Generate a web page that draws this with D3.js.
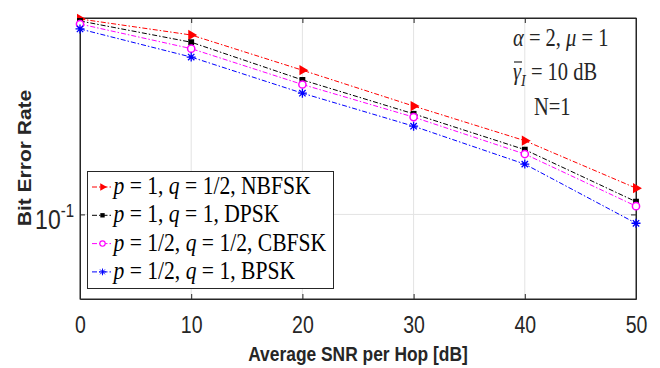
<!DOCTYPE html>
<html>
<head>
<meta charset="utf-8">
<script src="https://cdn.jsdelivr.net/npm/d3@7.9.0/dist/d3.min.js"></script>
<style>
  body { margin: 0; background: #fff; }
  svg { display: block; }
</style>
</head>
<body>
<svg id="chart" width="660" height="368"></svg>
<script>
// values
const snr = [0, 10, 20, 30, 40, 50];
const berNBFSK = [0.496, 0.435, 0.326, 0.243, 0.183, 0.124];
const berDPSK  = [0.488, 0.410, 0.301, 0.228, 0.170, 0.111];
const berCBFSK = [0.476, 0.389, 0.290, 0.222, 0.164, 0.107];
const berBPSK  = [0.457, 0.363, 0.270, 0.206, 0.151, 0.093];

const legendP = ['1', '1', '1/2', '1/2'];
const legendQ = ['1/2', '1', '1/2', '1'];
const legendName = ['NBFSK', 'DPSK', 'CBFSK', 'BPSK'];

const xTicks = [0, 10, 20, 30, 40, 50];
const yTicks = [0.1];

const SANS = 'Liberation Sans, Arial, sans-serif';
const SERIF = 'Liberation Serif, Times New Roman, serif';
const STRETCH = 1.18; // reference is a bit taller than wide
const AXIS = '#262626';

const series = [
  { values: berNBFSK, color: '#ff0000', marker: 'tri' },
  { values: berDPSK,  color: '#000000', marker: 'square' },
  { values: berCBFSK, color: '#ff00ff', marker: 'circle' },
  { values: berBPSK,  color: '#0000ff', marker: 'star' },
];

const svg = d3.select('#chart');
const pLeft = 80, pRight = 636, pTop = 18, pBottom = 299;

const x = d3.scaleLinear().domain([0, 50]).range([pLeft, pRight]);
const y = d3.scaleLog().domain([0.05, 0.5]).range([pBottom, pTop]);

// grid
const grid = svg.append('g').attr('stroke', '#e3e3e3').attr('stroke-width', 1);
xTicks.slice(1, -1).forEach(t => {
  grid.append('line').attr('x1', x(t)).attr('x2', x(t)).attr('y1', pTop).attr('y2', pBottom);
});
yTicks.forEach(t => {
  grid.append('line').attr('x1', pLeft).attr('x2', pRight).attr('y1', y(t)).attr('y2', y(t));
});

// axes (ticks point inward, box on all sides)
const gx = svg.append('g').attr('transform', `translate(0,${pBottom})`)
  .call(d3.axisBottom(x).tickValues(xTicks).tickSizeInner(-5).tickSizeOuter(0));
gx.selectAll('text')
  .attr('y', 0).attr('dy', 0)
  .attr('transform', `translate(0,34) scale(1,${STRETCH})`)
  .attr('font-family', SANS).attr('font-size', 19.5).attr('fill', AXIS);

svg.append('g').attr('transform', `translate(0,${pTop})`)
  .call(d3.axisTop(x).tickValues(xTicks).tickSizeInner(-5).tickSizeOuter(0).tickFormat(''));

const gy = svg.append('g').attr('transform', `translate(${pLeft},0)`)
  .call(d3.axisLeft(y).tickValues(yTicks).tickSizeInner(-5).tickSizeOuter(0).tickFormat(''));
gy.selectAll('.tick').append('text')
  .attr('transform', `translate(-6,14) scale(1,${STRETCH})`)
  .attr('text-anchor', 'end')
  .attr('font-family', SANS).attr('font-size', 23).attr('fill', AXIS)
  .call(t => {
    t.append('tspan').text('10');
    t.append('tspan').attr('dy', -10).attr('font-size', 15).text('-1');
  });

svg.append('g').attr('transform', `translate(${pRight},0)`)
  .call(d3.axisRight(y).tickValues(yTicks).tickSizeInner(-5).tickSizeOuter(0).tickFormat(''));

svg.selectAll('.domain, .tick line').attr('stroke', AXIS);
svg.append('rect').attr('x', pLeft).attr('y', pTop)
  .attr('width', pRight - pLeft).attr('height', pBottom - pTop)
  .attr('fill', 'none').attr('stroke', AXIS).attr('stroke-width', 1);

// markers
function starPath(r) {
  const d = r * Math.SQRT1_2;
  return `M${-r},0L${r},0M0,${-r}L0,${r}M${-d},${-d}L${d},${d}M${-d},${d}L${d},${-d}`;
}
function drawMarker(g, kind, color) {
  if (kind === 'tri') {
    g.append('path').attr('d', d3.symbol(d3.symbolTriangle, 46)())
      .attr('transform', 'rotate(90)').attr('fill', color);
  } else if (kind === 'square') {
    g.append('path').attr('d', d3.symbol(d3.symbolSquare, 34)()).attr('fill', color);
  } else if (kind === 'circle') {
    g.append('circle').attr('r', 3.6).attr('fill', '#fff')
      .attr('stroke', color).attr('stroke-width', 1.5);
  } else {
    g.append('path').attr('d', starPath(4.5)).attr('stroke', color).attr('stroke-width', 1.3);
  }
}

const line = d3.line().x((d, i) => x(snr[i])).y(d => y(d));
const plot = svg.append('g');
series.forEach(s => {
  plot.append('path').attr('d', line(s.values))
    .attr('fill', 'none').attr('stroke', s.color).attr('stroke-width', 1)
    .attr('stroke-dasharray', '5,2,1.5,2');
  s.values.forEach((v, i) => {
    const g = plot.append('g').attr('transform', `translate(${x(snr[i])},${y(v)})`);
    drawMarker(g, s.marker, s.color);
  });
});

// legend
const lg = svg.append('g');
lg.append('rect').attr('x', 87.5).attr('y', 171.5).attr('width', 246).attr('height', 117)
  .attr('fill', '#fff').attr('stroke', AXIS).attr('stroke-width', 1);
series.forEach((s, i) => {
  const cy = 187 + i * 28.3;
  lg.append('line').attr('x1', 92).attr('x2', 112).attr('y1', cy).attr('y2', cy)
    .attr('stroke', s.color).attr('stroke-width', 1).attr('stroke-dasharray', '5,2,1.5,2');
  const m = lg.append('g').attr('transform', `translate(102.5,${cy}) scale(0.75)`);
  drawMarker(m, s.marker, s.color);
  const t = lg.append('text')
    .attr('transform', `translate(113.5,${cy + 7}) scale(1,${STRETCH})`)
    .attr('font-family', SERIF).attr('font-size', 21.6).attr('fill', '#000');
  t.append('tspan').attr('font-style', 'italic').text('p');
  t.append('tspan').text(` = ${legendP[i]}, `);
  t.append('tspan').attr('font-style', 'italic').text('q');
  t.append('tspan').text(` = ${legendQ[i]}, ${legendName[i]}`);
});

// annotations
const ann = svg.append('g').attr('font-family', SERIF).attr('font-size', 20.5).attr('fill', '#262626');
const a1 = ann.append('text').attr('transform', `translate(513,46) scale(1,${STRETCH})`);
a1.append('tspan').attr('font-style', 'italic').text('α');
a1.append('tspan').text(' = 2, ');
a1.append('tspan').attr('font-style', 'italic').text('μ');
a1.append('tspan').text(' = 1');

const a2 = ann.append('text').attr('transform', `translate(513,80) scale(1,${STRETCH})`);
a2.append('tspan').attr('font-style', 'italic').text('γ');
a2.append('tspan').attr('font-style', 'italic').attr('font-size', 14).attr('dy', 5).text('I');
a2.append('tspan').attr('dy', -5).text(' = 10 dB');
ann.append('line').attr('x1', 514).attr('x2', 522).attr('y1', 62).attr('y2', 62)
  .attr('stroke', '#262626').attr('stroke-width', 1.2);

ann.append('text').attr('transform', `translate(534,115) scale(1,${STRETCH})`).text('N=1');

// axis titles
svg.append('text')
  .attr('transform', `translate(358,361) scale(1,${STRETCH})`)
  .attr('text-anchor', 'middle').attr('font-family', SANS).attr('font-weight', 'bold')
  .attr('font-size', 17.4).attr('fill', AXIS).text('Average SNR per Hop [dB]');

svg.append('text')
  .attr('transform', `translate(31,158) scale(1,${STRETCH}) rotate(-90)`)
  .attr('text-anchor', 'middle').attr('font-family', SANS).attr('font-weight', 'bold')
  .attr('font-size', 17.8).attr('fill', AXIS).text('Bit Error Rate');
</script>
</body>
</html>
